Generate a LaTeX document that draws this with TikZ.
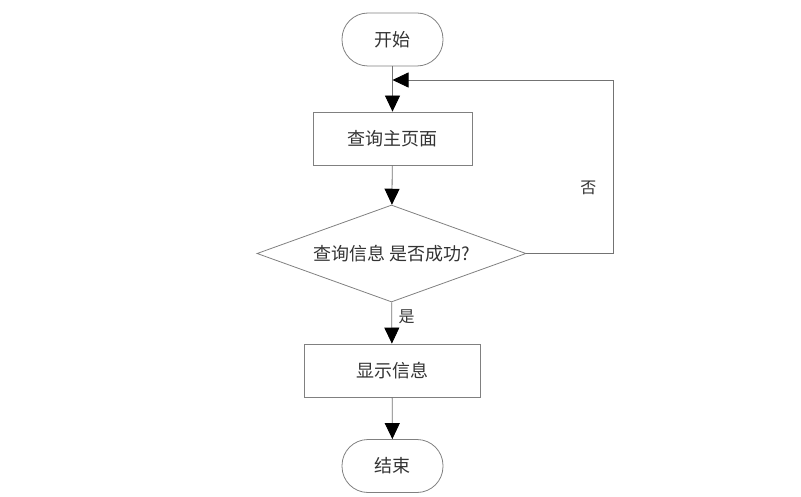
\documentclass[tikz,border=0pt]{standalone}
\usepackage{fontspec}
\setmainfont{Noto Sans CJK SC}
\usetikzlibrary{arrows.meta,shapes.geometric}
\begin{document}
\begin{tikzpicture}[x=1pt,y=-1pt,
  every node/.style={font=\fontsize{18pt}{20pt}\selectfont, text=black!80},
  term/.style={draw=black!50, line width=0.8pt, rounded corners=26pt, minimum width=101pt, minimum height=53pt, inner sep=0pt},
  proc/.style={draw=black!50, line width=0.8pt, minimum height=53pt, inner sep=0pt},
  deci/.style={diamond, draw=black!50, line width=0.8pt, minimum width=269pt, minimum height=97pt, shape aspect=2.77, inner sep=0pt},
  conn/.style={draw=black!55, line width=0.8pt, -{Triangle[length=16pt,width=15pt,fill=black,color=black]}},
  lbl/.style={font=\fontsize{16pt}{18pt}\selectfont}]
\useasboundingbox (0,0) rectangle (801,497);
\node[term] (start) at (392.5,39.5) {开始};
\node[proc, minimum width=159pt] (q) at (392.5,138.5) {查询主页面};
\node[deci] (d) at (391.5,253.5) {查询信息 是否成功?};
\node[proc, minimum width=176pt] (show) at (392,370.5) {显示信息};
\node[term] (end) at (392.5,466) {结束};
\coordinate (r1) at (613,253.5);
\coordinate (r2) at (613,80);
\coordinate (m) at (392.5,80);
\draw[conn] (start) -- (q);
\draw[conn] (q) -- (d);
\draw[conn] (d) -- node[lbl, right=3pt, pos=0.35] (yes) {是} (show);
\draw[conn] (show) -- (end);
\draw[conn] (d.east) -- (r1) -- node[lbl, left=13pt, pos=0.38] (no) {否} (r2) -- (m);
\end{tikzpicture}
\end{document}
